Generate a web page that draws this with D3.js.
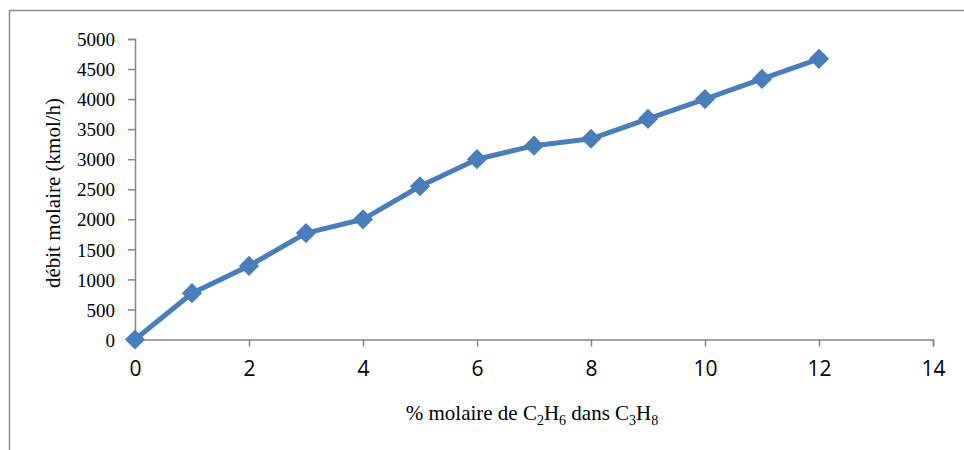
<!DOCTYPE html>
<html><head><meta charset="utf-8">
<script src="https://cdn.jsdelivr.net/npm/d3@7"></script>
<style>body{margin:0;background:#fff}</style>
</head><body>
<svg id="c" width="964" height="450"></svg>
<script>
const xValues = [0,1,2,3,4,5,6,7,8,9,10,11,12];
const debitMolaire = [0,770,1225,1770,2000,2550,3000,3225,3340,3670,4000,4335,4670];
const xTicks = [0,2,4,6,8,10,12,14];
const yTicks = [0,500,1000,1500,2000,2500,3000,3500,4000,4500,5000];

const svg = d3.select("#c");
svg.append("rect").attr("x",9.5).attr("y",10.5).attr("width",1000).attr("height",500)
  .attr("fill","none").attr("stroke","#8c8c8c").attr("stroke-width",1.5);

const x = d3.scaleLinear().domain([0,14]).range([135,933]);
const y = d3.scaleLinear().domain([0,5000]).range([339.5,39]);
const axisColor = "#868686";

const gx = svg.append("g").attr("transform",`translate(0,${y(0)})`)
  .call(d3.axisBottom(x).tickValues(xTicks).tickFormat(d3.format("d")).tickSize(7).tickSizeOuter(7).tickPadding(0));
gx.select(".domain").attr("stroke",axisColor).attr("stroke-width",1.5);
gx.selectAll(".tick line").attr("stroke",axisColor).attr("stroke-width",1.5);
gx.selectAll(".tick text").attr("fill","#000").attr("font-family","'Open Sans', sans-serif")
  .attr("font-size",21).attr("y",36).attr("dy",null);

const gy = svg.append("g").attr("transform",`translate(${x(0)},0)`)
  .call(d3.axisLeft(y).tickValues(yTicks).tickFormat(d3.format("d")).tickSize(7).tickSizeOuter(7).tickPadding(13));
gy.select(".domain").attr("stroke",axisColor).attr("stroke-width",1.5);
gy.selectAll(".tick line").attr("stroke",axisColor).attr("stroke-width",1.5);
gy.selectAll(".tick text").attr("fill","#000").attr("font-family","'Liberation Serif', serif")
  .attr("font-size",19).attr("dy","0.35em");

svg.append("text").attr("transform","translate(60,193) rotate(-90)")
  .attr("text-anchor","middle").attr("font-family","'Liberation Serif', serif")
  .attr("font-size",21).attr("fill","#000").text("débit molaire (kmol/h)");

const xl = svg.append("text").attr("x",532).attr("y",420).attr("text-anchor","middle")
  .attr("font-family","'Liberation Serif', serif").attr("font-size",21).attr("fill","#000");
const parts = [["% molaire de C",0],["2",1],["H",0],["6",1],[" dans C",0],["3",1],["H",0],["8",1]];
parts.forEach(([t,sub],i)=>{
  const ts = xl.append("tspan").text(t);
  if (sub) ts.attr("font-size",14).attr("dy",5);
  else if (i>0) ts.attr("dy",-5);
});

const data = xValues.map((v,i)=>({x:v,y:debitMolaire[i]}));
svg.append("path").datum(data).attr("fill","none").attr("stroke","#4a7ebb")
  .attr("stroke-width",5).attr("stroke-linejoin","round")
  .attr("d",d3.line().x(d=>x(d.x)).y(d=>y(d.y)));
svg.selectAll(".m").data(data).enter().append("path")
  .attr("transform",d=>`translate(${x(d.x)},${y(d.y)})`)
  .attr("d",d3.symbol().type(d3.symbolDiamond2).size(260))
  .attr("fill","#4a7ebb");
</script>
</body></html>
